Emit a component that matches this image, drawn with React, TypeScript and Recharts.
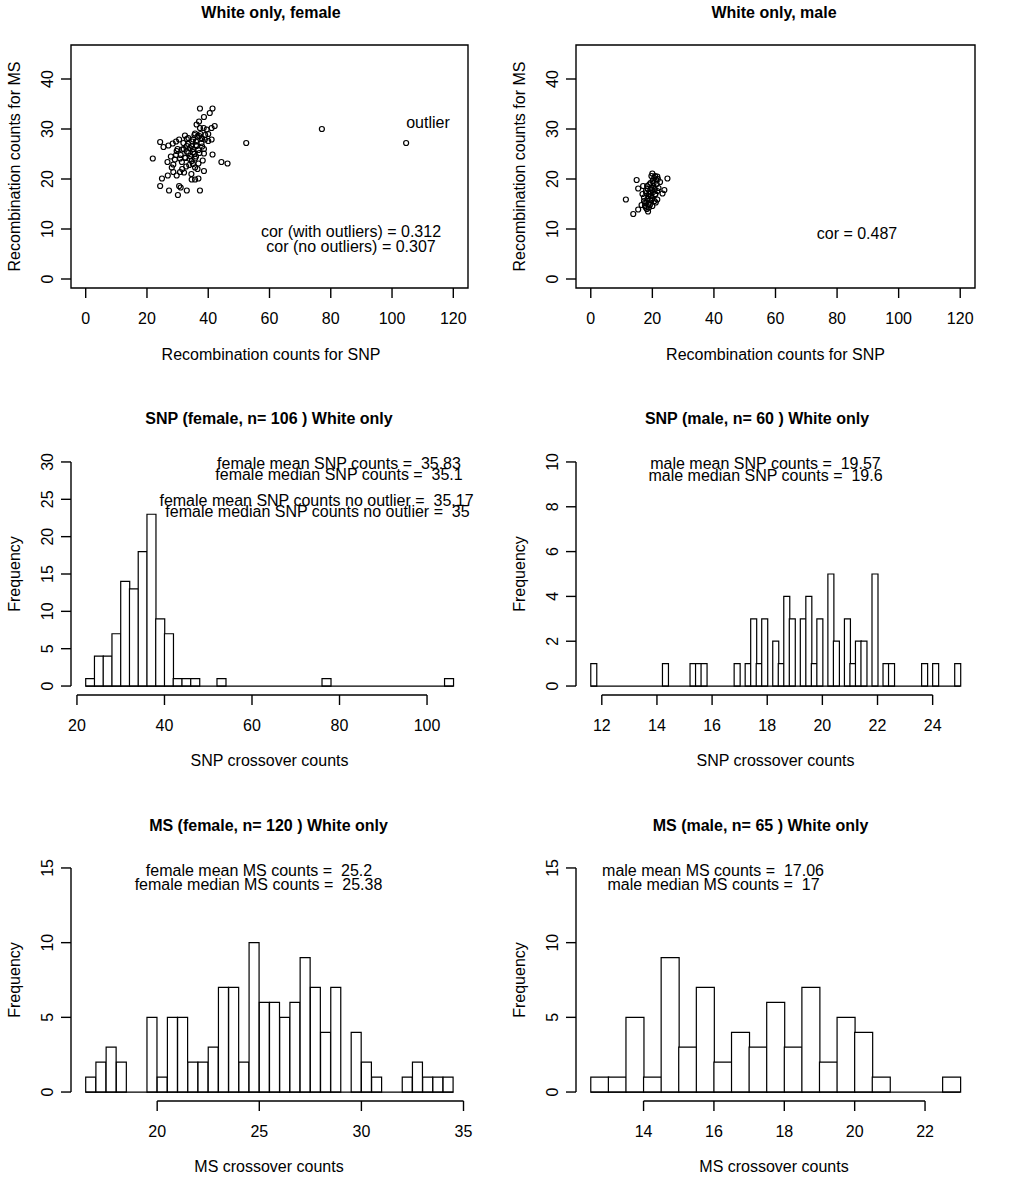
import React from "react";
import {
  ScatterChart,
  Scatter,
  ComposedChart,
  Bar,
  XAxis,
  YAxis,
  ReferenceLine,
  ReferenceArea,
} from "recharts";

const FONT = "'Liberation Sans', Arial, Helvetica, sans-serif";

// recombination counts per person, SNP (x) against MS (y)
const femaleSnp = [
  37.3, 41.4, 40.5, 38.6, 36.2, 42.1, 41.1, 39.5, 37.3, 77.1, 104.6, 52.4, 24.3, 25.4, 27.0, 28.4, 29.5, 30.5,
  32.4, 33.5, 35.1, 35.7, 37.1, 37.8, 38.9, 40.0, 41.1, 31.9, 33.0, 34.6, 36.2, 38.6, 29.7, 31.4, 33.5, 35.1,
  37.1, 38.6, 41.4, 21.9, 26.7, 29.1, 30.8, 32.4, 34.1, 35.7, 38.2, 44.3, 46.3, 28.6, 31.4, 34.6, 32.8, 35.7,
  36.8, 28.1, 28.6, 29.7, 30.8, 32.1, 26.8, 24.9, 34.6, 35.7, 36.8, 38.6, 24.3, 30.5, 31.0, 27.2, 33.0, 37.3,
  30.1, 33.5, 34.0, 35.0, 36.0, 36.5, 37.5, 38.0, 36.8, 35.5, 34.0, 33.0, 32.0, 31.0, 37.8, 39.0, 36.0, 35.0,
  33.8, 36.0, 34.8, 38.5, 37.0, 40.0, 32.5, 29.5, 31.5, 36.5, 34.5, 33.0, 35.5, 38.0, 30.0, 27.8,
];
const femaleMs = [
  34.1, 34.1, 33.2, 32.4, 30.9, 30.6, 30.2, 29.9, 30.2, 30.0, 27.2, 27.2, 27.4, 26.4, 26.7, 27.1, 27.5, 27.9,
  28.7, 28.2, 27.9, 29.1, 28.6, 28.2, 27.9, 27.6, 27.9, 27.2, 26.6, 26.6, 26.6, 26.0, 25.6, 25.9, 25.2, 25.4,
  25.2, 25.1, 24.9, 24.1, 23.4, 23.9, 24.1, 24.3, 24.6, 24.1, 23.7, 23.4, 23.1, 22.9, 23.4, 23.6, 22.5, 22.3,
  23.1, 22.3, 21.4, 20.7, 21.4, 21.3, 20.7, 20.1, 19.9, 19.9, 20.1, 21.6, 18.6, 18.6, 18.3, 17.7, 17.7, 17.7,
  16.8, 27.0, 26.2, 26.0, 27.5, 28.5, 29.0, 28.0, 25.8, 25.0, 24.0, 25.5, 26.0, 24.8, 27.2, 28.8, 24.5, 23.0,
  22.8, 26.8, 27.5, 30.2, 31.5, 29.0, 24.2, 24.8, 22.0, 22.0, 21.0, 28.0, 28.8, 26.5, 26.0, 24.5,
];
const maleSnp = [
  11.4, 13.8, 15.4, 14.9, 15.4, 17.0, 16.5, 17.3, 17.9, 18.6, 18.1, 19.2, 18.7, 19.2, 19.8, 18.3, 19.0, 20.1,
  20.0, 20.9, 21.6, 21.2, 22.5, 24.9, 23.9, 23.3, 21.6, 20.9, 21.6, 21.1, 19.8, 17.3, 20.3, 19.5, 17.9, 18.9,
  17.6, 18.4, 19.0, 19.6, 20.4, 20.8, 19.3, 18.8, 20.6, 21.4, 18.0, 19.9, 20.2, 18.5, 21.0, 17.6, 19.4, 20.7,
  18.2, 19.7, 21.8, 16.8, 20.0, 22.0,
];
const maleMs = [
  15.9, 13.0, 13.9, 19.8, 18.1, 18.6, 14.8, 15.6, 14.3, 13.5, 15.3, 14.8, 16.6, 17.3, 17.9, 18.6, 18.9, 19.6,
  21.1, 20.6, 20.5, 19.9, 19.4, 20.1, 17.8, 17.1, 17.6, 16.9, 15.9, 15.3, 15.9, 16.3, 18.6, 16.6, 17.6, 14.3,
  14.6, 16.0, 17.0, 18.2, 19.2, 18.0, 15.8, 15.0, 20.2, 19.0, 17.2, 16.2, 17.4, 18.0, 17.0, 15.2, 19.2, 15.6,
  14.0, 20.6, 20.0, 17.0, 14.6, 18.2,
];
const scatterXTicks = [0, 20, 40, 60, 80, 100, 120];
const scatterYTicks = [0, 10, 20, 30, 40];

// histogram bins: first break, bin width, counts
const snpFemaleStart = 22;
const snpFemaleWidth = 2;
const snpFemaleCounts = [
  1, 4, 4, 7, 14, 13, 18, 23, 9, 7, 1, 1, 1, 0, 0, 1, 0, 0, 0, 0, 0, 0, 0, 0, 0, 0, 0, 1, 0, 0, 0, 0, 0, 0, 0,
  0, 0, 0, 0, 0, 0, 1,
];
const snpFemaleXTicks = [20, 40, 60, 80, 100];
const snpFemaleYTicks = [0, 5, 10, 15, 20, 25, 30];

const snpMaleStart = 11.6;
const snpMaleWidth = 0.2;
const snpMaleCounts = [
  1, 0, 0, 0, 0, 0, 0, 0, 0, 0, 0, 0, 0, 1, 0, 0, 0, 0, 1, 1, 1, 0, 0, 0, 0, 0, 1, 0, 1, 3, 1, 3, 0, 2, 1, 4, 3,
  0, 3, 4, 1, 3, 0, 5, 2, 0, 3, 1, 2, 2, 0, 5, 0, 1, 1, 0, 0, 0, 0, 0, 1, 0, 1, 0, 0, 0, 1,
];
const snpMaleXTicks = [12, 14, 16, 18, 20, 22, 24];
const snpMaleYTicks = [0, 2, 4, 6, 8, 10];

const msFemaleStart = 16.5;
const msFemaleWidth = 0.5;
const msFemaleCounts = [
  1, 2, 3, 2, 0, 0, 5, 1, 5, 5, 2, 2, 3, 7, 7, 2, 10, 6, 6, 5, 6, 9, 7, 4, 7, 0, 4, 2, 1, 0, 0, 1, 2, 1, 1, 1,
];
const msFemaleXTicks = [20, 25, 30, 35];

const msMaleStart = 12.5;
const msMaleWidth = 0.5;
const msMaleCounts = [1, 1, 5, 1, 9, 3, 7, 2, 4, 3, 6, 3, 7, 2, 5, 4, 1, 0, 0, 0, 1];
const msMaleXTicks = [14, 16, 18, 20, 22];
const msYTicks = [0, 5, 10, 15];

// plot regions on the page
const COLS = [
  { left: 71, right: 468 },
  { left: 576, right: 975 },
];
const ROWS = [
  { top: 45, bottom: 288 },
  { top: 453, bottom: 695 },
  { top: 859, bottom: 1101 },
];
const Y_AXIS_W = 40;
const X_AXIS_H = 40;
const LINE = 1.4;

function frame(col: number, row: number) {
  const c = COLS[col];
  const r = ROWS[row];
  const pw = c.right - c.left;
  const ph = r.bottom - r.top;
  const margin = { top: 45, right: 40, bottom: 10, left: 71 - Y_AXIS_W };
  return {
    style: { position: "absolute" as const, left: c.left - 71, top: r.top - 45 },
    width: pw + 71 + 40,
    height: ph + 45 + 10 + X_AXIS_H,
    margin,
  };
}

function XTick(props: any) {
  const { x, y, payload } = props;
  return (
    <text x={x} y={y + 18.5} textAnchor="middle" dominantBaseline="central" fontSize={16} fontFamily={FONT} fill="#000">
      {payload.value}
    </text>
  );
}

function YTick(props: any) {
  const { x, y, payload } = props;
  const cx = x - 11.5;
  return (
    <text
      x={cx}
      y={y}
      transform={`rotate(-90 ${cx} ${y})`}
      textAnchor="middle"
      dominantBaseline="central"
      fontSize={16}
      fontFamily={FONT}
      fill="#000"
    >
      {payload.value}
    </text>
  );
}

const Ring = (p: any) => <circle cx={p.cx} cy={p.cy} r={2.5} fill="none" stroke="#000" strokeWidth={1.2} />;

function ScatterPanel({ col, xs, ys }: { col: number; xs: number[]; ys: number[] }) {
  const f = frame(col, 0);
  const data = xs.map((x, i) => ({ x, y: ys[i] }));
  const xDom: [number, number] = [-4.8, 124.8];
  const yDom: [number, number] = [-1.8, 46.8];
  return (
    <div style={f.style}>
      <ScatterChart width={f.width} height={f.height} margin={f.margin}>
        <XAxis
          type="number"
          dataKey="x"
          domain={xDom}
          allowDataOverflow
          ticks={scatterXTicks}
          tick={<XTick />}
          tickSize={10}
          tickLine={{ stroke: "#000", strokeWidth: LINE }}
          axisLine={false}
          height={X_AXIS_H}
        />
        <YAxis
          type="number"
          dataKey="y"
          domain={yDom}
          allowDataOverflow
          ticks={scatterYTicks}
          tick={<YTick />}
          tickSize={10}
          tickLine={{ stroke: "#000", strokeWidth: LINE }}
          axisLine={false}
          width={Y_AXIS_W}
        />
        <ReferenceArea
          x1={xDom[0]}
          x2={xDom[1]}
          y1={yDom[0]}
          y2={yDom[1]}
          fill="none"
          stroke="#000"
          strokeWidth={LINE}
          ifOverflow="visible"
        />
        <Scatter data={data} shape={Ring} isAnimationActive={false} />
      </ScatterChart>
    </div>
  );
}

function HistPanel({
  col,
  row,
  start,
  width,
  counts,
  xTicks,
  yTicks,
}: {
  col: number;
  row: number;
  start: number;
  width: number;
  counts: number[];
  xTicks: number[];
  yTicks: number[];
}) {
  const f = frame(col, row);
  const data = counts.map((count, i) => ({ mid: start + (i + 0.5) * width, count }));
  const lo = start;
  const hi = start + counts.length * width;
  const ext = (hi - lo) * 0.04;
  const xDom: [number, number] = [lo - ext, hi + ext];
  const yTop = yTicks[yTicks.length - 1];
  const yDom: [number, number] = [-yTop * 0.04, yTop * 1.04];
  return (
    <div style={f.style}>
      <ComposedChart width={f.width} height={f.height} margin={f.margin} data={data} barCategoryGap={0} barGap={0}>
        <XAxis
          type="number"
          dataKey="mid"
          domain={xDom}
          allowDataOverflow
          ticks={xTicks}
          tick={<XTick />}
          tickSize={10}
          tickLine={{ stroke: "#000", strokeWidth: LINE }}
          axisLine={false}
          height={X_AXIS_H}
        />
        <YAxis
          type="number"
          domain={yDom}
          allowDataOverflow
          ticks={yTicks}
          tick={<YTick />}
          tickSize={10}
          tickLine={{ stroke: "#000", strokeWidth: LINE }}
          axisLine={false}
          width={Y_AXIS_W}
        />
        <ReferenceLine
          segment={[
            { x: lo, y: 0 },
            { x: hi, y: 0 },
          ]}
          stroke="#000"
          strokeWidth={1.2}
          ifOverflow="visible"
        />
        <Bar dataKey="count" fill="#fff" stroke="#000" strokeWidth={1.2} isAnimationActive={false} />
        <ReferenceLine
          segment={[
            { x: xTicks[0], y: yDom[0] },
            { x: xTicks[xTicks.length - 1], y: yDom[0] },
          ]}
          stroke="#000"
          strokeWidth={LINE}
          ifOverflow="visible"
        />
        <ReferenceLine
          segment={[
            { x: xDom[0], y: 0 },
            { x: xDom[0], y: yTop },
          ]}
          stroke="#000"
          strokeWidth={LINE}
          ifOverflow="visible"
        />
      </ComposedChart>
    </div>
  );
}

type Label = { x: number; y: number; t: string; bold?: boolean; rot?: boolean; size?: number };

const labels: Label[] = [
  // titles
  { x: 271, y: 12, t: "White only, female", bold: true },
  { x: 774, y: 12, t: "White only, male", bold: true },
  { x: 269, y: 418, t: "SNP (female, n= 106 ) White only", bold: true },
  { x: 757, y: 418, t: "SNP (male, n= 60 ) White only", bold: true },
  { x: 268.5, y: 825, t: "MS (female, n= 120 ) White only", bold: true },
  { x: 760.5, y: 825, t: "MS (male, n= 65 ) White only", bold: true },
  // axis titles
  { x: 271, y: 354, t: "Recombination counts for SNP" },
  { x: 775.5, y: 354, t: "Recombination counts for SNP" },
  { x: 269.5, y: 760, t: "SNP crossover counts" },
  { x: 775.5, y: 760, t: "SNP crossover counts" },
  { x: 269, y: 1166, t: "MS crossover counts" },
  { x: 774, y: 1166, t: "MS crossover counts" },
  { x: 14, y: 166.5, t: "Recombination counts for MS", rot: true },
  { x: 519, y: 166.5, t: "Recombination counts for MS", rot: true },
  { x: 14, y: 574, t: "Frequency", rot: true },
  { x: 519, y: 574, t: "Frequency", rot: true },
  { x: 14, y: 980, t: "Frequency", rot: true },
  { x: 519, y: 980, t: "Frequency", rot: true },
  // annotations
  { x: 428, y: 122.5, t: "outlier" },
  { x: 351, y: 231.5, t: "cor (with outliers) = 0.312" },
  { x: 351, y: 246.5, t: "cor (no outliers) = 0.307" },
  { x: 857, y: 233, t: "cor = 0.487" },
  { x: 339, y: 463, t: "female mean SNP counts =  35.83" },
  { x: 339, y: 474.5, t: "female median SNP counts =  35.1" },
  { x: 316.5, y: 500.5, t: "female mean SNP counts no outlier =  35.17" },
  { x: 317.5, y: 511.5, t: "female median SNP counts no outlier =  35" },
  { x: 765.5, y: 463.5, t: "male mean SNP counts =  19.57" },
  { x: 765.5, y: 475, t: "male median SNP counts =  19.6" },
  { x: 259, y: 870.5, t: "female mean MS counts =  25.2" },
  { x: 258.5, y: 884, t: "female median MS counts =  25.38" },
  { x: 713, y: 870.5, t: "male mean MS counts =  17.06" },
  { x: 713.5, y: 884, t: "male median MS counts =  17" },
];

export default function App() {
  return (
    <div
      style={{
        position: "absolute",
        left: 0,
        top: 0,
        width: 1016,
        height: 1200,
        background: "#fff",
        fontFamily: FONT,
      }}
    >
      <ScatterPanel col={0} xs={femaleSnp} ys={femaleMs} />
      <ScatterPanel col={1} xs={maleSnp} ys={maleMs} />
      <HistPanel col={0} row={1} start={snpFemaleStart} width={snpFemaleWidth} counts={snpFemaleCounts} xTicks={snpFemaleXTicks} yTicks={snpFemaleYTicks} />
      <HistPanel col={1} row={1} start={snpMaleStart} width={snpMaleWidth} counts={snpMaleCounts} xTicks={snpMaleXTicks} yTicks={snpMaleYTicks} />
      <HistPanel col={0} row={2} start={msFemaleStart} width={msFemaleWidth} counts={msFemaleCounts} xTicks={msFemaleXTicks} yTicks={msYTicks} />
      <HistPanel col={1} row={2} start={msMaleStart} width={msMaleWidth} counts={msMaleCounts} xTicks={msMaleXTicks} yTicks={msYTicks} />
      <svg width={1016} height={1200} style={{ position: "absolute", left: 0, top: 0, pointerEvents: "none" }}>
        {labels.map((l, i) => (
          <text
            key={i}
            x={l.x}
            y={l.y}
            transform={l.rot ? `rotate(-90 ${l.x} ${l.y})` : undefined}
            textAnchor="middle"
            dominantBaseline="central"
            fontSize={l.size ?? (l.bold ? 16 : 16)}
            fontWeight={l.bold ? "bold" : "normal"}
            fontFamily={FONT}
            fill="#000"
            style={{ whiteSpace: "pre" }}
          >
            {l.t}
          </text>
        ))}
      </svg>
    </div>
  );
}
